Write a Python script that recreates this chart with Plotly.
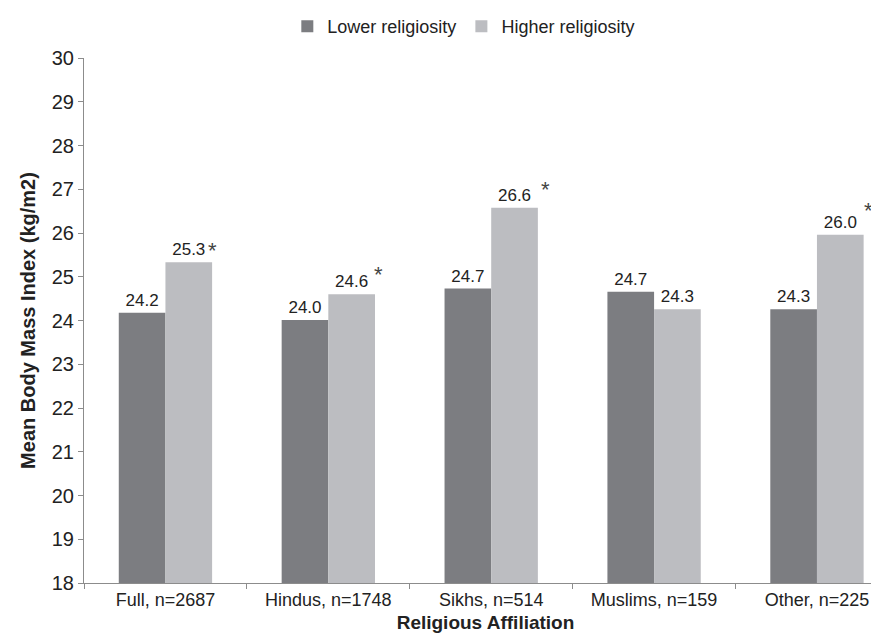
import plotly.graph_objects as go

categories = ["Full, n=2687", "Hindus, n=1748", "Sikhs, n=514", "Muslims, n=159", "Other, n=225"]
lower_values = [24.18, 24.01, 24.73, 24.66, 24.26]
higher_values = [25.33, 24.60, 26.58, 24.26, 25.96]
lower_labels = ["24.2", "24.0", "24.7", "24.7", "24.3"]
higher_labels = ["25.3", "24.6", "26.6", "24.3", "26.0"]
significant = [True, True, True, False, True]
y_ticks = list(range(18, 31))

# asterisk placement (pixel offsets relative to top of higher bar)
star_dx = [47, 50, 54, 0, 52]
star_dy = [12, 20, 18, 0, 24]

FONT = "Liberation Sans, Arial, sans-serif"
TXT = "#222222"

fig = go.Figure()
fig.add_trace(go.Bar(
    name="Lower religiosity", x=categories, y=lower_values,
    marker=dict(color="#7c7d81", line=dict(width=0)),
    text=lower_labels, textposition="outside", texttemplate="%{text}",
    textfont=dict(size=17, color=TXT, family=FONT), cliponaxis=False,
))
fig.add_trace(go.Bar(
    name="Higher religiosity", x=categories, y=higher_values,
    marker=dict(color="#bcbdc1", line=dict(width=0)),
    text=higher_labels, textposition="outside", texttemplate="%{text}",
    textfont=dict(size=17, color=TXT, family=FONT), cliponaxis=False,
))

for cat, val, sig, dx, dy in zip(categories, higher_values, significant, star_dx, star_dy):
    if sig:
        fig.add_annotation(x=cat, y=val, xref="x", yref="y", text="*",
                           showarrow=False, xshift=dx, yshift=dy,
                           font=dict(size=22, color="#444444", family=FONT))

fig.update_layout(
    width=879, height=635,
    margin=dict(l=76, r=0, t=47, b=60),
    plot_bgcolor="white", paper_bgcolor="white",
    barmode="group", bargap=0.427, bargroupgap=0,
    font=dict(family=FONT, color=TXT),
    showlegend=True,
    legend=dict(orientation="h", x=0.473, xanchor="center", y=1.06, yanchor="middle",
                font=dict(size=18, color=TXT, family=FONT), itemwidth=30,
                traceorder="normal", bgcolor="rgba(0,0,0,0)"),
    xaxis=dict(
        range=[-0.5, 4.43], showline=True, linecolor="#8c8c8c", linewidth=1,
        ticks="outside", tickson="boundaries", ticklen=5, tickcolor="#8c8c8c",
        tickfont=dict(size=18, color=TXT, family=FONT), automargin=False,
        title=dict(text="<b>Religious Affiliation</b>", font=dict(size=19, color=TXT, family=FONT), standoff=7),
        showgrid=False, zeroline=False,
    ),
    yaxis=dict(
        range=[18, 30], tickvals=y_ticks, showline=True, linecolor="#8c8c8c", linewidth=1,
        ticks="outside", ticklen=5, tickcolor="#8c8c8c",
        tickfont=dict(size=20, color=TXT, family=FONT), automargin=False,
        title=dict(text="<b>Mean Body Mass Index (kg/m2)</b>", font=dict(size=20, color=TXT, family=FONT), standoff=10),
        showgrid=False, zeroline=False,
    ),
)

fig.write_html("out.html")
